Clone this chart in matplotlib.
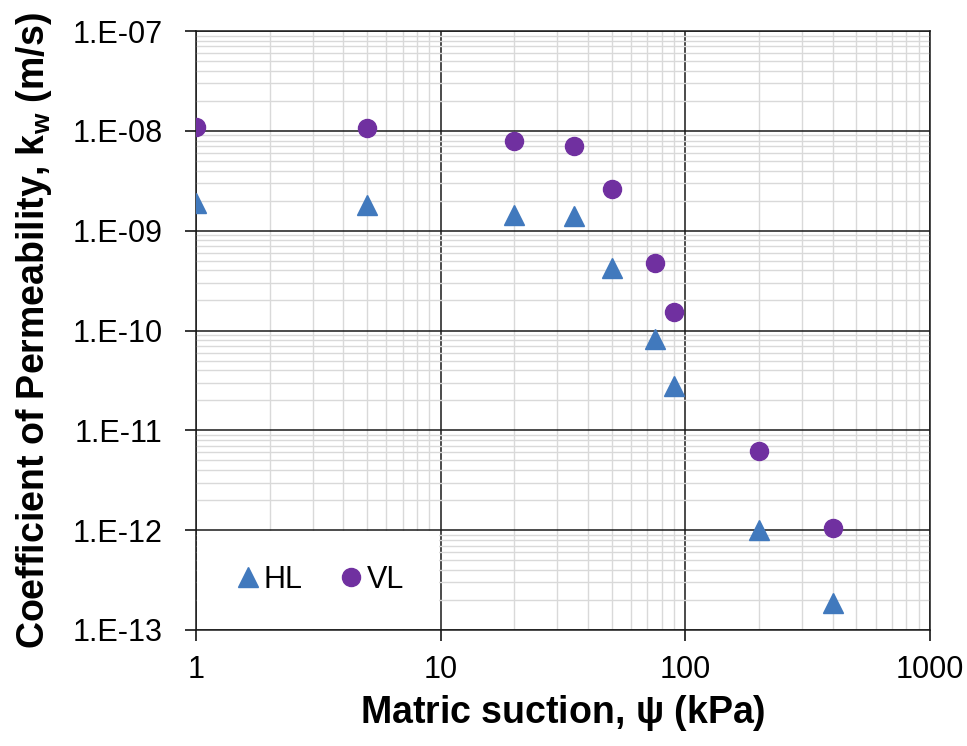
import math
import matplotlib
matplotlib.use('Agg')
import matplotlib.pyplot as plt
from matplotlib.patches import Rectangle
from matplotlib.ticker import LogLocator, FuncFormatter, NullFormatter

plt.rcParams['font.family'] = ['Liberation Sans', 'DejaVu Sans']
plt.rcParams['mathtext.fontset'] = 'custom'
plt.rcParams['mathtext.rm'] = 'Liberation Sans:bold'
plt.rcParams['mathtext.bf'] = 'Liberation Sans:bold'

# matric suction (kPa)
suction = [1, 5, 20, 35, 50, 75, 90, 200, 400]
# permeability (m/s)
k_hl = [1.9e-9, 1.8e-9, 1.45e-9, 1.4e-9, 4.2e-10, 8.3e-11, 2.8e-11, 1.0e-12, 1.85e-13]
k_vl = [1.1e-8, 1.07e-8, 7.9e-9, 7.1e-9, 2.6e-9, 4.8e-10, 1.55e-10, 6.2e-12, 1.05e-12]

fig = plt.figure(figsize=(9.67, 7.46), dpi=100)
ax = fig.add_axes([0.2027, 0.1555, 0.7590, 0.8029])

ax.plot(suction, k_hl, linestyle='none', marker='^', markersize=15,
        color='#4179BD', label='HL', zorder=3)
ax.plot(suction, k_vl, linestyle='none', marker='o', markersize=13,
        color='#7030A0', label='VL', zorder=3)

ax.set_xscale('log')
ax.set_yscale('log')
ax.set_xlim(1, 1000)
ax.set_ylim(1e-13, 1e-7)

ax.xaxis.set_major_locator(LogLocator(base=10, numticks=10))
ax.yaxis.set_major_locator(LogLocator(base=10, numticks=10))
ax.xaxis.set_minor_locator(LogLocator(base=10, subs=range(2, 10), numticks=20))
ax.yaxis.set_minor_locator(LogLocator(base=10, subs=range(2, 10), numticks=20))
ax.xaxis.set_major_formatter(FuncFormatter(lambda v, p: f'{v:g}'))
ax.yaxis.set_major_formatter(FuncFormatter(lambda v, p: '1.E%03d' % round(math.log10(v))))
ax.xaxis.set_minor_formatter(NullFormatter())
ax.yaxis.set_minor_formatter(NullFormatter())

ax.grid(which='major', color='#1a1a1a', linewidth=1.1)
ax.grid(which='minor', color='#d9d9d9', linewidth=1.0)
ax.set_axisbelow(True)

ax.tick_params(which='major', direction='out', length=8, width=1.1,
               labelsize=22)
ax.tick_params(axis='x', which='major', pad=10)
ax.tick_params(axis='y', which='major', pad=16)
ax.tick_params(which='minor', length=0)
for s in ax.spines.values():
    s.set_color('#1a1a1a')
    s.set_linewidth(1.1)

ax.set_xlabel(r'Matric suction, $\mathregular{\psi}$ (kPa)', fontsize=27,
              fontweight='bold', labelpad=6)
ax.set_ylabel(r'Coefficient of Permeability, k$_\mathregular{w}$ (m/s)',
              fontsize=27, fontweight='bold', labelpad=13)

# white box behind the legend (covers the lower-left grid cell)
ax.add_patch(Rectangle((0.002, 0.002), 1 / 3 - 0.004, 1 / 6 - 0.004,
                       transform=ax.transAxes, facecolor='white',
                       edgecolor='none', zorder=1))

leg = ax.legend(loc='center', ncol=2, frameon=False, fontsize=22,
                handletextpad=0.0, columnspacing=1.1, handlelength=1.0,
                markerscale=1.0, bbox_to_anchor=(0.0, 0.0, 1 / 3, 1 / 6))

fig.savefig('out.png', dpi=100)
